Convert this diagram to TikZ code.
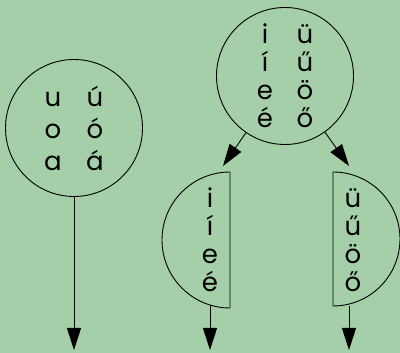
\documentclass[tikz,border=0pt]{standalone}
\usepackage{fontspec}
\setmainfont{Poppins}
\usetikzlibrary{arrows.meta}
\definecolor{mint}{RGB}{164,207,168}
\newcommand\pair[3][42pt]{\makebox[#1]{#2}\makebox[#1]{#3}}

\begin{document}
\begin{tikzpicture}[x=1pt, y=1pt,
  ring/.style={draw, circle, line width=0.9pt, minimum size=137pt,
               inner sep=0pt, align=center},
  half/.style={draw, line width=0.9pt},
  letters/.style={align=center, inner sep=0pt, font=\fontsize{26}{28}\selectfont},
  every edge/.style={draw, line width=0.9pt, -{Triangle[length=22pt,width=14pt]}}
]
\fill[mint] (0,0) rectangle (400,353);
\useasboundingbox (0,0) rectangle (400,353);

% back vowels
\node[ring, font=\fontsize{26}{32}\selectfont] (back) at (74,225)
  {\pair{u}{ú}\\\pair{o}{ó}\\\pair{a}{á}};
\coordinate (backend) at (74,3);

% front vowels
\node[ring, font=\fontsize{26}{28}\selectfont] (front) at (285,277)
  {\pair[40pt]{i}{ü}\\\pair[40pt]{í}{ű}\\\pair[40pt]{e}{ö}\\\pair[40pt]{é}{ő}};

% unrounded half
\draw[half] (230,181) arc[start angle=90, end angle=270, radius=68] -- cycle;
\node[letters] (unr) at (210,113) {i\\í\\e\\é};
\coordinate (unrtip) at (223,187);
\coordinate (unrfoot) at (210,48);
\coordinate (unrend) at (210,3);

% rounded half
\draw[half] (333,181) arc[start angle=90, end angle=-90, radius=67] -- cycle;
\node[letters] (rnd) at (353,113) {ü\\ű\\ö\\ő};
\coordinate (rndtip) at (349,187);
\coordinate (rndfoot) at (349,47);
\coordinate (rndend) at (349,3);

\path (back) edge (backend)
      (front) edge (unrtip)
      (front) edge (rndtip)
      (unrfoot) edge (unrend)
      (rndfoot) edge (rndend);
\end{tikzpicture}
\end{document}
